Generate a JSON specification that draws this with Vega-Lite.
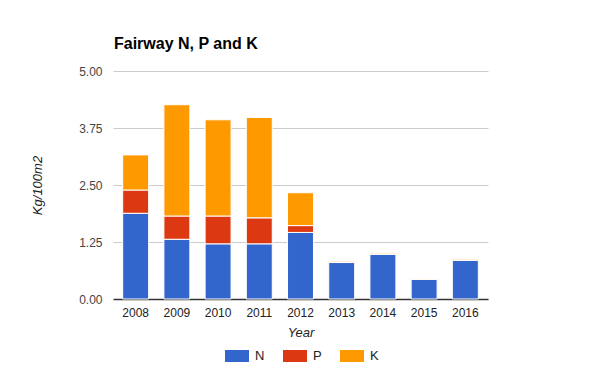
{
  "$schema": "https://vega.github.io/schema/vega-lite/v6.json",
  "width": 375,
  "height": 228,
  "autosize": {"type": "none"},
  "padding": {"left": 113, "top": 71, "right": 112, "bottom": 72},
  "background": "white",
  "title": {
    "text": "Fairway N, P and K",
    "anchor": "start",
    "frame": "group",
    "font": "Liberation Sans, Arial",
    "fontSize": 16,
    "fontWeight": "bold",
    "color": "#000000",
    "offset": 21,
    "dy": 24,
    "dx": 1,
    "baseline": "bottom"
  },
  "config": {
    "view": {"stroke": null},
    "font": "Liberation Sans, Arial"
  },
  "data": {
    "values": [
      {"Year": "2008", "Nutrient": "N", "Value": 1.88},
      {"Year": "2008", "Nutrient": "P", "Value": 0.51},
      {"Year": "2008", "Nutrient": "K", "Value": 0.77},
      {"Year": "2009", "Nutrient": "N", "Value": 1.31},
      {"Year": "2009", "Nutrient": "P", "Value": 0.51},
      {"Year": "2009", "Nutrient": "K", "Value": 2.44},
      {"Year": "2010", "Nutrient": "N", "Value": 1.21},
      {"Year": "2010", "Nutrient": "P", "Value": 0.61},
      {"Year": "2010", "Nutrient": "K", "Value": 2.11},
      {"Year": "2011", "Nutrient": "N", "Value": 1.21},
      {"Year": "2011", "Nutrient": "P", "Value": 0.57},
      {"Year": "2011", "Nutrient": "K", "Value": 2.2},
      {"Year": "2012", "Nutrient": "N", "Value": 1.46},
      {"Year": "2012", "Nutrient": "P", "Value": 0.15},
      {"Year": "2012", "Nutrient": "K", "Value": 0.72},
      {"Year": "2013", "Nutrient": "N", "Value": 0.8},
      {"Year": "2013", "Nutrient": "P", "Value": 0.01},
      {"Year": "2013", "Nutrient": "K", "Value": 0.02},
      {"Year": "2014", "Nutrient": "N", "Value": 0.98},
      {"Year": "2014", "Nutrient": "P", "Value": 0.01},
      {"Year": "2014", "Nutrient": "K", "Value": 0.02},
      {"Year": "2015", "Nutrient": "N", "Value": 0.43},
      {"Year": "2015", "Nutrient": "P", "Value": 0.005},
      {"Year": "2015", "Nutrient": "K", "Value": 0.015},
      {"Year": "2016", "Nutrient": "N", "Value": 0.85},
      {"Year": "2016", "Nutrient": "P", "Value": 0.01},
      {"Year": "2016", "Nutrient": "K", "Value": 0.02}
    ]
  },
  "transform": [
    {"calculate": "indexof(['N','P','K'], datum.Nutrient)", "as": "stackOrder"}
  ],
  "mark": {"type": "bar", "stroke": "white", "strokeWidth": 1},
  "encoding": {
    "x": {
      "field": "Year",
      "type": "ordinal",
      "scale": {"paddingInner": 0.37, "paddingOuter": 0.235},
      "axis": {
        "title": "Year",
        "titleFont": "Liberation Sans, Arial",
        "titleFontStyle": "italic",
        "titleFontWeight": "normal",
        "titleFontSize": 13,
        "titleColor": "#222222",
        "titlePadding": 8,
        "labelAngle": 0,
        "labelFontSize": 12,
        "labelColor": "#222222",
        "labelPadding": 8,
        "ticks": false,
        "domainColor": "#333333",
        "domainWidth": 1.5
      }
    },
    "y": {
      "field": "Value",
      "type": "quantitative",
      "stack": "zero",
      "scale": {"domain": [0, 5], "nice": false},
      "axis": {
        "title": "Kg/100m2",
        "titleFont": "Liberation Sans, Arial",
        "titleFontStyle": "italic",
        "titleFontWeight": "normal",
        "titleFontSize": 13,
        "titleColor": "#222222",
        "titlePadding": 34,
        "values": [0, 1.25, 2.5, 3.75, 5],
        "format": ".2f",
        "labelFontSize": 12,
        "labelColor": "#444444",
        "labelPadding": 11,
        "ticks": false,
        "domain": false,
        "gridColor": "#cccccc"
      }
    },
    "order": {"field": "stackOrder", "type": "quantitative", "sort": "ascending"},
    "color": {
      "field": "Nutrient",
      "type": "nominal",
      "sort": ["N", "P", "K"],
      "scale": {"domain": ["N", "P", "K"], "range": ["#3366cc", "#dc3912", "#ff9900"]},
      "legend": {
        "title": null,
        "orient": "none",
        "legendX": 112,
        "legendY": 273,
        "direction": "horizontal",
        "symbolType": "M-1,-0.5H1V0.5H-1Z",
        "symbolSize": 576,
        "symbolStrokeWidth": 0,
        "labelFontSize": 13,
        "labelColor": "#222222",
        "labelOffset": 6,
        "columnPadding": 18
      }
    }
  }
}
